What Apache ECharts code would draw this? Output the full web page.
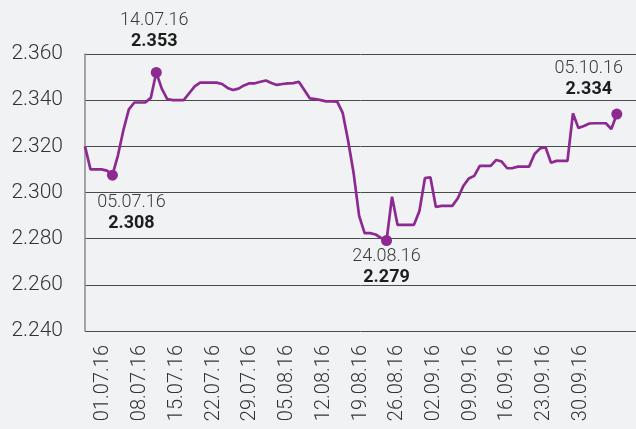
<!DOCTYPE html>
<head>
    <meta charset="utf-8">
    <title>ECharts</title>
    <style>
        html, body { margin: 0; padding: 0; background: #f1f2f4; }
    </style>
</head>
<body>
    <div id="main" style="width:636px;height:429px"></div>
    <script src="https://cdn.jsdelivr.net/npm/echarts@6/dist/echarts.min.js"></script>
    <script type="text/javascript">
var myChart = echarts.init(document.getElementById('main'));

// daily values 30.06.16 .. 05.10.16
var rates = [
    2.3200, 2.3100, 2.3100, 2.3100, 2.3095, 2.3075, 2.3160, 2.3270, 2.3360, 2.3390,
    2.3390, 2.3390, 2.3410, 2.3520, 2.3450, 2.3405, 2.3400, 2.3400, 2.3400, 2.3430,
    2.3460, 2.3476, 2.3476, 2.3476, 2.3476, 2.3470, 2.3453, 2.3444, 2.3450, 2.3464,
    2.3473, 2.3473, 2.3480, 2.3485, 2.3474, 2.3466, 2.3470, 2.3473, 2.3474, 2.3480,
    2.3444, 2.3408, 2.3405, 2.3400, 2.3395, 2.3395, 2.3394, 2.3345, 2.3223, 2.3083,
    2.2899, 2.2824, 2.2824, 2.2818, 2.2803, 2.2792, 2.2982, 2.2860, 2.2860, 2.2860,
    2.2860, 2.2920, 2.3062, 2.3066, 2.2937, 2.2942, 2.2942, 2.2942, 2.2975, 2.3028,
    2.3061, 2.3072, 2.3115, 2.3115, 2.3115, 2.3141, 2.3134, 2.3105, 2.3106, 2.3112,
    2.3112, 2.3112, 2.3167, 2.3191, 2.3196, 2.3129, 2.3137, 2.3137, 2.3137, 2.3343,
    2.3279, 2.3288, 2.3299, 2.3300, 2.3300, 2.3300, 2.3275, 2.3340
];

var tickLabels = ['01.07.16', '08.07.16', '15.07.16', '22.07.16', '29.07.16', '05.08.16',
    '12.08.16', '19.08.16', '26.08.16', '02.09.16', '09.09.16', '16.09.16', '23.09.16',
    '30.09.16', ''];

// highlighted points: day index, date, value
var noteIndex = [5, 13, 55, 97];
var noteDates = ['05.07.16', '14.07.16', '24.08.16', '05.10.16'];
var noteValues = ['2.308', '2.353', '2.279', '2.334'];
var noteOffsets = [[19, 38], [-2, -41], [0, 26], [-28, -35]];

var purple = '#8c2a91';

var lineData = rates.map(function (v, i) { return [i, v]; });
var noteData = noteIndex.map(function (idx, k) {
    return {
        value: [idx, rates[idx]],
        label: {
            show: true,
            position: 'inside',
            offset: noteOffsets[k],
            formatter: '{d|' + noteDates[k] + '}\n{v|' + noteValues[k] + '}'
        }
    };
});

var option = {
    backgroundColor: '#f1f2f4',
    animation: false,
    textStyle: { fontFamily: 'Roboto, "Liberation Sans", sans-serif' },
    grid: { left: 85, top: 54, width: 555, height: 277 },
    xAxis: [{
        type: 'value',
        min: 0,
        max: 100.5,
        show: false
    }, {
        type: 'category',
        data: tickLabels,
        boundaryGap: true,
        position: 'bottom',
        axisLine: { show: false },
        axisTick: { show: false },
        splitLine: { show: false },
        axisLabel: {
            rotate: 90,
            margin: 14,
            interval: 0,
            fontSize: 20,
            fontWeight: 300,
            color: '#333333'
        }
    }],
    yAxis: {
        type: 'value',
        min: 2.24,
        max: 2.36,
        interval: 0.02,
        axisLine: { show: true, lineStyle: { color: '#8a8a8a', width: 1.5 } },
        axisTick: { show: false },
        axisLabel: {
            margin: 22,
            fontSize: 21,
            fontWeight: 300,
            color: '#333333',
            formatter: function (v) { return v.toFixed(3); }
        },
        splitLine: { lineStyle: { color: '#4a4a4a', width: 1 } }
    },
    series: [{
        type: 'line',
        xAxisIndex: 0,
        data: lineData,
        symbol: 'none',
        lineStyle: { color: purple, width: 2.7 }
    }, {
        type: 'scatter',
        xAxisIndex: 0,
        data: noteData,
        symbol: 'circle',
        symbolSize: 11,
        itemStyle: { color: purple, opacity: 1 },
        label: {
            rich: {
                d: { fontSize: 18, fontWeight: 300, color: '#3a3a3a', lineHeight: 21, align: 'center' },
                v: { fontSize: 18, fontWeight: 'bold', color: '#1e1e1e', lineHeight: 21, align: 'center' }
            }
        },
        z: 5
    }]
};

myChart.setOption(option);
    </script>
</body>
